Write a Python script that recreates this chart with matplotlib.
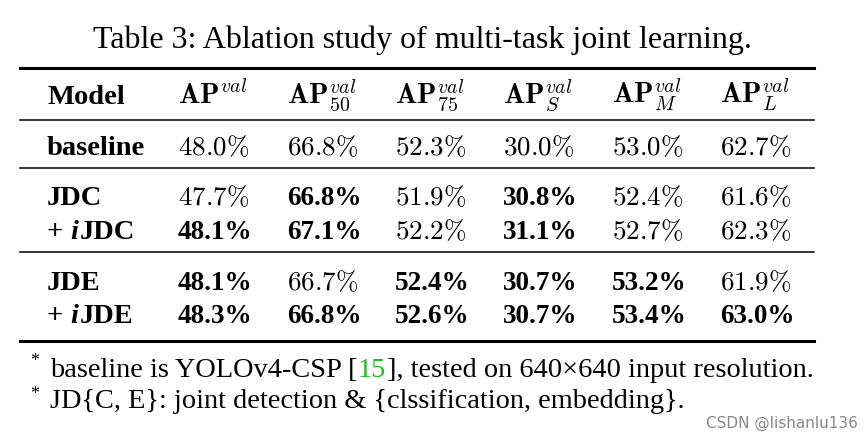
"""
Ablation table (multi-task joint learning) drawn as a matplotlib figure.
"""
import matplotlib
matplotlib.use("Agg")
import matplotlib.pyplot as plt
from matplotlib.lines import Line2D

models = ["baseline", "JDC", "+ iJDC", "JDE", "+ iJDE"]
ap = [48.0, 47.7, 48.1, 48.1, 48.3]
ap50 = [66.8, 66.8, 67.1, 66.7, 66.8]
ap75 = [52.3, 51.9, 52.2, 52.4, 52.6]
ap_s = [30.0, 30.8, 31.1, 30.7, 30.7]
ap_m = [53.0, 52.4, 52.7, 53.2, 53.4]
ap_l = [62.7, 61.6, 62.3, 61.9, 63.0]
# which cells are bold, row by row
bold = [
    [0, 0, 0, 0, 0, 0],
    [0, 1, 0, 1, 0, 0],
    [1, 1, 0, 1, 0, 0],
    [1, 0, 1, 1, 1, 0],
    [1, 1, 1, 1, 1, 1],
]
headers = [r"$\mathbf{AP}^{val}$", r"$\mathbf{AP}^{val}_{50}$",
           r"$\mathbf{AP}^{val}_{75}$", r"$\mathbf{AP}^{val}_{S}$",
           r"$\mathbf{AP}^{val}_{M}$", r"$\mathbf{AP}^{val}_{L}$"]
title = "Table 3: Ablation study of multi-task joint learning."

plt.rcParams["font.family"] = ["Liberation Serif", "DejaVu Serif"]
plt.rcParams["mathtext.fontset"] = "cm"

W, H = 865, 438
fig = plt.figure(figsize=(W / 100, H / 100), dpi=100)
fig.patch.set_facecolor("white")


def px(x, y):
    return x / W, 1 - y / H


def text(x, y, s, **kw):
    kw.setdefault("fontsize", 20.5)
    kw.setdefault("va", "baseline")
    return fig.text(*px(x, y), s, **kw)


def rule(y, lw):
    (x0, y0), (x1, y1) = px(20, y), px(814, y)
    fig.add_artist(Line2D([x0, x1], [y0, y1], transform=fig.transFigure,
                          color="black", lw=lw))


text(422, 48, title, ha="center", fontsize=23)

rule(68, 2.2)
rule(120, 1.1)
rule(168, 1.1)
rule(252, 1.1)
rule(341, 2.2)

col_x = [178, 287, 395, 503, 612, 720]
text(47, 104, "Model", fontweight="bold")
for x, h in zip(col_x, headers):
    text(x, 104, h, fontsize=20.5)

row_y = [155, 205, 239, 290, 323]
cols = [ap, ap50, ap75, ap_s, ap_m, ap_l]
r = fig.canvas.get_renderer()
for i, (name, y) in enumerate(zip(models, row_y)):
    if name.startswith("+ i"):
        t = text(47, y, "+ ", fontweight="bold")
        x = 47 + t.get_window_extent(r).width
        t = text(x, y, "i", fontweight="bold", fontstyle="italic")
        x += t.get_window_extent(r).width + 1
        text(x, y, name[3:], fontweight="bold")
    else:
        text(47, y, name, fontweight="bold")
    for j, x in enumerate(col_x):
        v = f"{cols[j][i]:.1f}"
        if bold[i][j]:
            text(x, y, v + "%", fontsize=19.5, fontweight="bold")
        else:
            text(x, y, f"${v}\\%$", fontsize=19.5)

# footnotes
text(30, 366, "*", fontsize=13)
parts = [("baseline is YOLOv4-CSP [", "black"), ("15", "#22bb22"),
         ("], tested on 640\u00d7640 input resolution.", "black")]
x = 50
for s, c in parts:
    t = text(x, 377, s, color=c, fontsize=20.4)
    x = t.get_window_extent(r).x1 + 0.5
text(30, 399, "*", fontsize=13)
text(50, 408, "JD{C, E}: joint detection & {clssification, embedding}.",
     fontsize=20.4)

fig.text(*px(858, 423), "CSDN @lishanlu136", ha="right", va="center",
         fontsize=11, color="#888888", family="DejaVu Sans")

fig.savefig("out.png", dpi=100)
